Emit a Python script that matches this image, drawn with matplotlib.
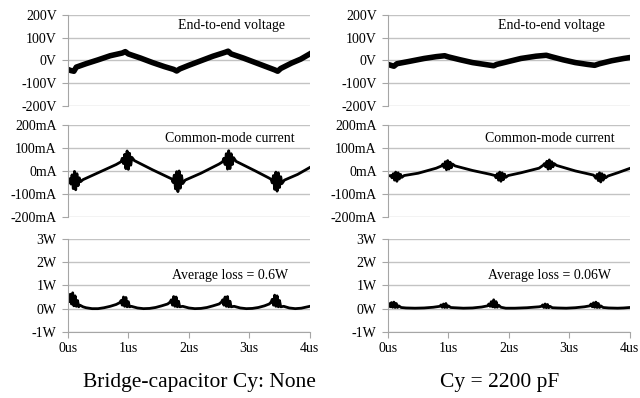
import matplotlib.pyplot as plt

plt.rcParams['font.family'] = ['Liberation Serif', 'DejaVu Serif']

# time axis (us) and tick labels
x_ticks = [0, 1, 2, 3, 4]
x_labels = ['0us', '1us', '2us', '3us', '4us']
v_ticks = [-200, -100, 0, 100, 200]
v_labels = ['-200V', '-100V', '0V', '100V', '200V']
i_ticks = [-200, -100, 0, 100, 200]
i_labels = ['-200mA', '-100mA', '0mA', '100mA', '200mA']
p_ticks = [-1, 0, 1, 2, 3]
p_labels = ['-1W', '0W', '1W', '2W', '3W']

# left column: no bridge capacitor
t_vl = [0, 0.05, 0.1, 0.14, 0.3, 0.5, 0.7, 0.9, 0.95, 1.0, 1.2, 1.4, 1.6, 1.75, 1.8, 1.85,
        2.0, 2.2, 2.4, 2.6, 2.65, 2.7, 2.9, 3.1, 3.3, 3.42, 3.47, 3.52, 3.7, 3.85, 4.0]
v_vl = [-40, -45, -48, -30, -15, 2, 20, 32, 38, 28, 10, -10, -28, -40, -47, -38,
        -22, -2, 18, 35, 40, 28, 10, -10, -30, -42, -48, -36, -12, 5, 28]

t_il = [0, 0.03, 0.05, 0.07, 0.09, 0.11, 0.13, 0.15, 0.17, 0.19, 0.21, 0.25, 0.5, 0.8,
        0.88, 0.90, 0.92, 0.94, 0.96, 0.98, 1.00, 1.02, 1.04, 1.06, 1.10, 1.4, 1.68,
        1.72, 1.74, 1.76, 1.78, 1.80, 1.82, 1.84, 1.86, 1.88, 1.90, 1.94, 2.2, 2.5,
        2.56, 2.58, 2.60, 2.62, 2.64, 2.66, 2.68, 2.70, 2.72, 2.74, 2.78, 3.1, 3.32,
        3.36, 3.38, 3.40, 3.42, 3.44, 3.46, 3.48, 3.50, 3.52, 3.54, 3.58, 3.8, 4.0]
i_il = [-40, -34, -57, -17, -77, -2, -82, -12, -64, -30, -47, -38, -8, 28,
        40, 55, 32, 72, 10, 87, 7, 77, 25, 59, 45, 5, -30,
        -35, -50, -18, -78, -3, -90, 0, -75, -20, -55, -40, -10, 30,
        40, 55, 28, 75, 8, 88, 10, 75, 28, 58, 42, 0, -30,
        -36, -52, -20, -80, -5, -88, -8, -72, -25, -55, -40, -15, 15]

t_pl = [0, 0.02, 0.04, 0.06, 0.08, 0.10, 0.12, 0.14, 0.16, 0.18, 0.2, 0.25, 0.3, 0.4, 0.5, 0.6, 0.7, 0.8,
        0.86, 0.88, 0.90, 0.92, 0.94, 0.96, 0.98, 1.00, 1.02, 1.05, 1.15, 1.25, 1.35, 1.45, 1.55, 1.65,
        1.69, 1.71, 1.73, 1.75, 1.77, 1.79, 1.81, 1.83, 1.85, 1.9, 2.0, 2.1, 2.2, 2.3, 2.4, 2.5,
        2.54, 2.56, 2.58, 2.60, 2.62, 2.64, 2.66, 2.68, 2.70, 2.75, 2.85, 2.95, 3.05, 3.15, 3.25, 3.33,
        3.36, 3.38, 3.40, 3.42, 3.44, 3.46, 3.48, 3.50, 3.52, 3.57, 3.66, 3.76, 3.86, 4.0]
p_pl = [0.4, 0.3, 0.62, 0.2, 0.68, 0.12, 0.55, 0.1, 0.35, 0.08, 0.15, 0.08, 0.04, 0.0, 0.0, 0.04, 0.1, 0.18,
        0.26, 0.35, 0.15, 0.5, 0.1, 0.48, 0.08, 0.3, 0.08, 0.1, 0.03, 0.0, 0.01, 0.05, 0.12, 0.2,
        0.28, 0.38, 0.15, 0.52, 0.1, 0.5, 0.08, 0.32, 0.08, 0.1, 0.03, 0.0, 0.01, 0.05, 0.12, 0.2,
        0.28, 0.38, 0.15, 0.5, 0.1, 0.52, 0.08, 0.32, 0.08, 0.1, 0.03, 0.0, 0.01, 0.05, 0.12, 0.2,
        0.28, 0.4, 0.15, 0.58, 0.1, 0.55, 0.08, 0.35, 0.08, 0.1, 0.03, 0.0, 0.02, 0.1]

# right column: Cy = 2200 pF
t_vr = [0, 0.05, 0.1, 0.15, 0.35, 0.6, 0.8, 0.94, 1.0, 1.2, 1.4, 1.6, 1.75, 1.8,
        2.0, 2.2, 2.45, 2.62, 2.7, 2.9, 3.1, 3.3, 3.42, 3.5, 3.7, 3.9, 4.0]
v_vr = [-18, -22, -26, -15, -5, 8, 16, 20, 15, 2, -10, -18, -24, -18,
        -5, 8, 18, 22, 16, 2, -10, -18, -22, -15, -2, 8, 12]

t_ir = [0, 0.05, 0.07, 0.09, 0.11, 0.13, 0.15, 0.17, 0.19, 0.21, 0.23, 0.27, 0.5, 0.8,
        0.89, 0.91, 0.93, 0.95, 0.97, 0.99, 1.01, 1.03, 1.05, 1.07, 1.11, 1.4, 1.7,
        1.77, 1.79, 1.81, 1.83, 1.85, 1.87, 1.89, 1.91, 1.93, 1.95, 1.99, 2.2, 2.5,
        2.57, 2.59, 2.61, 2.63, 2.65, 2.67, 2.69, 2.71, 2.73, 2.75, 2.79, 3.1, 3.4,
        3.42, 3.44, 3.46, 3.48, 3.50, 3.52, 3.54, 3.56, 3.58, 3.60, 3.64, 3.8, 4.0]
i_ir = [-22, -20, -30, -12, -40, -5, -45, -8, -35, -15, -28, -20, -10, 12,
        22, 30, 15, 40, 5, 45, 8, 38, 14, 30, 22, 2, -15,
        -20, -30, -12, -40, -5, -45, -8, -38, -14, -28, -20, -8, 12,
        25, 32, 18, 42, 8, 48, 10, 40, 18, 32, 24, 0, -18,
        -24, -32, -15, -42, -8, -48, -12, -40, -18, -30, -22, -8, 11]

t_pr = [0, 0.02, 0.04, 0.06, 0.08, 0.10, 0.12, 0.14, 0.16, 0.18, 0.22, 0.3, 0.45, 0.6, 0.75,
        0.86, 0.88, 0.90, 0.92, 0.94, 0.96, 0.98, 1.00, 1.04, 1.1, 1.25, 1.4, 1.55,
        1.65, 1.67, 1.69, 1.71, 1.73, 1.75, 1.77, 1.79, 1.81, 1.83, 1.87, 1.95, 2.1, 2.3, 2.5,
        2.54, 2.56, 2.58, 2.60, 2.62, 2.64, 2.66, 2.68, 2.72, 2.8, 2.95, 3.1, 3.25,
        3.34, 3.36, 3.38, 3.40, 3.42, 3.44, 3.46, 3.48, 3.50, 3.52, 3.56, 3.65, 3.8, 3.9, 4.0]
p_pr = [0.12, 0.22, 0.08, 0.26, 0.06, 0.28, 0.05, 0.22, 0.05, 0.12, 0.05, 0.03, 0.02, 0.03, 0.06,
        0.1, 0.16, 0.06, 0.2, 0.05, 0.22, 0.05, 0.12, 0.05, 0.04, 0.02, 0.03, 0.07,
        0.12, 0.2, 0.1, 0.3, 0.08, 0.38, 0.06, 0.3, 0.06, 0.15, 0.06, 0.02, 0.02, 0.04, 0.08,
        0.1, 0.16, 0.05, 0.2, 0.04, 0.18, 0.04, 0.1, 0.04, 0.03, 0.02, 0.04, 0.08,
        0.12, 0.2, 0.08, 0.25, 0.06, 0.28, 0.05, 0.22, 0.05, 0.12, 0.05, 0.03, 0.02, 0.03, 0.05]

grid_c = '#c3c3c3'
axis_c = '#a6a6a6'

fig = plt.figure(figsize=(6.4, 3.98), dpi=100)


def panel(rect, t, y, ticks, labels, note, nx, ny, lw, bottom=False):
    ax = fig.add_axes(rect)
    ax.plot(t, y, color='black', lw=lw, solid_joinstyle='round')
    ax.set_xlim(0, 4)
    ax.set_ylim(ticks[0], ticks[-1])
    ax.set_yticks(ticks)
    ax.set_yticklabels(labels)
    ax.yaxis.grid(True, color=grid_c, lw=1)
    ax.set_axisbelow(True)
    for s in ['top', 'right']:
        ax.spines[s].set_visible(False)
    ax.spines['left'].set_color(axis_c)
    ax.tick_params(axis='y', colors=axis_c, labelcolor='black', length=4,
                   labelsize=10, pad=4)
    if bottom:
        ax.set_xticks(x_ticks)
        ax.set_xticklabels(x_labels)
        ax.spines['bottom'].set_color(axis_c)
        ax.tick_params(axis='x', colors=axis_c, labelcolor='black', length=4,
                       labelsize=10, pad=3)
    else:
        ax.spines['bottom'].set_visible(False)
        ax.set_xticks([])
    ax.text(nx, ny, note, transform=ax.transAxes, ha='center', va='center',
            fontsize=10)
    return ax


cols = [
    (0.106, t_vl, v_vl, t_il, i_il, t_pl, p_pl, 'Average loss = 0.6W'),
    (0.606, t_vr, v_vr, t_ir, i_ir, t_pr, p_pr, 'Average loss = 0.06W'),
]
w = 0.378
for x0, tv, vv, ti, ii, tp, pp, loss in cols:
    panel([x0, 0.734, w, 0.229], tv, vv, v_ticks, v_labels,
          'End-to-end voltage', 0.675, 0.88, 4.0)
    panel([x0, 0.455, w, 0.231], ti, ii, i_ticks, i_labels,
          'Common-mode current', 0.67, 0.85, 2.0)
    panel([x0, 0.166, w, 0.234], tp, pp, p_ticks, p_labels,
          loss, 0.67, 0.61, 2.0, bottom=True)

fig.text(0.311, 0.038, 'Bridge-capacitor Cy: None', ha='center', va='center',
         fontsize=15.5)
fig.text(0.781, 0.038, 'Cy = 2200 pF', ha='center', va='center', fontsize=15.5)

fig.savefig('out.png', dpi=100)
